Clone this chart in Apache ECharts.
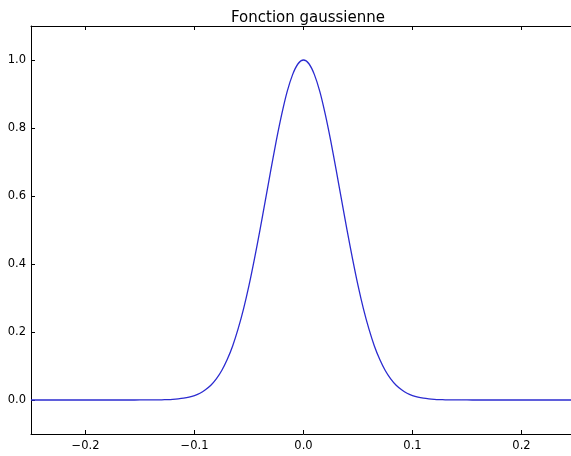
<!DOCTYPE html>
<html>
<head>
<meta charset="utf-8">
<script src="https://cdn.jsdelivr.net/npm/echarts@6/dist/echarts.min.js"></script>
<style>
  html, body { margin: 0; padding: 0; background: #fff; overflow: hidden; }
  #main { width: 580px; height: 456px; }
</style>
</head>
<body>
<div id="main"></div>
<script>
// valeurs
var xs = [-0.25, -0.23, -0.21, -0.19, -0.17, -0.16,
          -0.15, -0.145, -0.14, -0.135, -0.13, -0.125, -0.12, -0.115, -0.11, -0.105,
          -0.10, -0.095, -0.09, -0.085, -0.08, -0.075, -0.07, -0.065, -0.06, -0.055,
          -0.05, -0.045, -0.04, -0.035, -0.03, -0.025, -0.02, -0.015, -0.01, -0.005,
          0.00, 0.005, 0.01, 0.015, 0.02, 0.025, 0.03, 0.035, 0.04, 0.045,
          0.05, 0.055, 0.06, 0.065, 0.07, 0.075, 0.08, 0.085, 0.09, 0.095,
          0.10, 0.105, 0.11, 0.115, 0.12, 0.125, 0.13, 0.135, 0.14, 0.145,
          0.15, 0.16, 0.17, 0.19, 0.21, 0.23, 0.25];
var ys = [0, 0, 0, 0, 0, 0,
          0.0001, 0.0001, 0.0002, 0.0004, 0.0006, 0.0011, 0.0019, 0.0032, 0.0052, 0.0083,
          0.013, 0.0198, 0.030, 0.0432, 0.062, 0.0867, 0.119, 0.159, 0.209, 0.268,
          0.337, 0.415, 0.499, 0.587, 0.676, 0.762, 0.840, 0.907, 0.957, 0.989,
          1.0, 0.989, 0.957, 0.907, 0.840, 0.762, 0.676, 0.587, 0.499, 0.415,
          0.337, 0.268, 0.209, 0.159, 0.119, 0.0867, 0.062, 0.0432, 0.030, 0.0198,
          0.013, 0.0083, 0.0052, 0.0032, 0.0019, 0.0011, 0.0006, 0.0004, 0.0002, 0.0001,
          0.0001, 0, 0, 0, 0, 0, 0];
var xTicks = [-0.2, -0.1, 0.0, 0.1, 0.2];
var yTicks = [0.0, 0.2, 0.4, 0.6, 0.8, 1.0];
var titre = 'Fonction gaussienne';

var chart = echarts.init(document.getElementById('main'), null, { renderer: 'canvas' });

var font = 'DejaVu Sans';
function fmt(v) {
  return v.toFixed(1).replace('-', '\u2212');
}
var spine = { show: true, onZero: false, lineStyle: { color: '#000', width: 1 } };
var tickIn = { show: true, inside: true, length: 4, lineStyle: { color: '#000', width: 1 } };

var pts = xs.map(function (x, i) { return [x, ys[i]]; });

var option = {
  animation: false,
  backgroundColor: '#fff',
  title: {
    text: titre,
    left: 303, top: 6,
    textAlign: 'center',
    textStyle: { fontFamily: font, fontSize: 15, fontWeight: 'normal', color: '#000' }
  },
  grid: { left: 31, top: 26, width: 545, height: 408 },
  xAxis: [
    {
      type: 'value', min: -0.25, max: 0.25, position: 'bottom',
      axisLine: spine,
      axisTick: Object.assign({ customValues: xTicks }, tickIn),
      axisLabel: { customValues: xTicks, formatter: fmt, margin: 6,
                   fontFamily: font, fontSize: 11.5, color: '#000' },
      splitLine: { show: false }
    },
    {
      type: 'value', min: -0.25, max: 0.25, position: 'top',
      axisLine: spine,
      axisTick: Object.assign({ customValues: xTicks }, tickIn),
      axisLabel: { show: false },
      splitLine: { show: false }
    }
  ],
  yAxis: [
    {
      type: 'value', min: -0.1, max: 1.1, position: 'left',
      axisLine: spine,
      axisTick: Object.assign({ customValues: yTicks }, tickIn),
      axisLabel: { customValues: yTicks, formatter: fmt, margin: 5,
                   fontFamily: font, fontSize: 11.5, color: '#000' },
      splitLine: { show: false }
    },
    {
      type: 'value', min: -0.1, max: 1.1, position: 'right',
      axisLine: spine,
      axisTick: Object.assign({ customValues: yTicks }, tickIn),
      axisLabel: { show: false },
      splitLine: { show: false }
    }
  ],
  series: [
    {
      type: 'line',
      data: pts,
      showSymbol: false,
      smooth: 0.3,
      lineStyle: { color: '#2b2bd0', width: 1.3 }
    }
  ]
};

chart.setOption(option);
</script>
</body>
</html>
